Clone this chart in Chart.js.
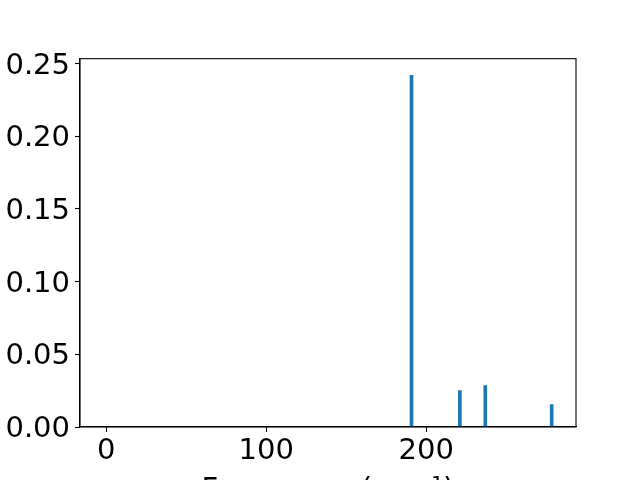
<!DOCTYPE html>
<html>
<head>
<meta charset="utf-8">
<script src="https://cdn.jsdelivr.net/npm/chart.js@4/dist/chart.umd.min.js"></script>
<style>
html, body { margin: 0; padding: 0; background: #fff; overflow: hidden; }
#wrap { width: 640px; height: 480px; overflow: hidden; position: relative; }
canvas { display: block; }
</style>
</head>
<body>
<div id="wrap"><canvas id="c" width="640" height="520"></canvas></div>
<script>
// Data
const frequencies = [190.8, 221.0, 236.9, 278.4];
const intensities = [0.242, 0.025, 0.0285, 0.0155];
const xTicks = [0, 100, 200];
const yTicks = [0.00, 0.05, 0.10, 0.15, 0.20, 0.25];
const xLimits = [-16.4, 293.6];
const yLimits = [0, 0.2534];
const xLabel = 'Frequency (cm\u207B\u00B9)';

const FONT = { family: 'DejaVu Sans', size: 29 };

const framePlugin = {
  id: 'frame',
  afterDraw(chart) {
    const a = chart.chartArea, ctx = chart.ctx;
    ctx.save();
    ctx.strokeStyle = '#000';
    ctx.lineWidth = 1.1;
    ctx.strokeRect(a.left, a.top, a.right - a.left, a.bottom - a.top);
    ctx.restore();
  }
};

new Chart(document.getElementById('c'), {
  type: 'bar',
  data: {
    datasets: [{
      data: frequencies.map((f, i) => ({ x: f, y: intensities[i] })),
      backgroundColor: '#1f77b4',
      borderWidth: 0,
      barThickness: 3
    }]
  },
  options: {
    responsive: false,
    devicePixelRatio: 1,
    animation: false,
    layout: { padding: { left: 0, right: 64, top: 58.7, bottom: 0 } },
    plugins: { legend: { display: false }, tooltip: { enabled: false } },
    scales: {
      x: {
        type: 'linear',
        min: xLimits[0],
        max: xLimits[1],
        offset: false,
        afterBuildTicks: s => { s.ticks = xTicks.map(v => ({ value: v })); },
        afterFit: s => { s.height = 93; },
        grid: { offset: false, drawOnChartArea: false, drawTicks: true, tickLength: 5, tickColor: '#000', tickWidth: 1.1 },
        border: { display: true, color: '#000', width: 1.1 },
        ticks: { color: '#000', font: FONT, padding: 2, maxRotation: 0, autoSkip: false, callback: v => String(v) },
        title: { display: true, text: xLabel, color: '#000', font: FONT, padding: { top: 0, bottom: 12.5 } }
      },
      y: {
        type: 'linear',
        min: yLimits[0],
        max: yLimits[1],
        afterBuildTicks: s => { s.ticks = yTicks.map(v => ({ value: v })); },
        afterFit: s => { s.width = 80; },
        grid: { drawOnChartArea: false, drawTicks: true, tickLength: 5, tickColor: '#000', tickWidth: 1.1 },
        border: { display: true, color: '#000', width: 1.1 },
        ticks: { color: '#000', font: FONT, padding: 5, labelOffset: 2.5, callback: v => Number(v).toFixed(2) }
      }
    }
  },
  plugins: [framePlugin]
});
</script>
</body>
</html>
